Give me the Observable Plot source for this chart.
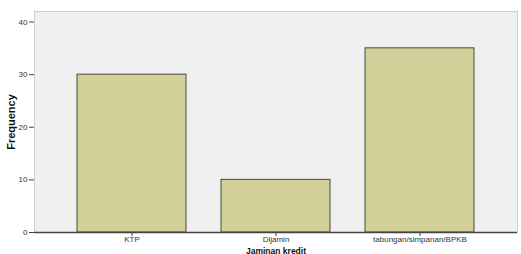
<!DOCTYPE html>
<html><head><meta charset="utf-8">
<script src="https://cdn.jsdelivr.net/npm/d3@7"></script>
<script src="https://cdn.jsdelivr.net/npm/@observablehq/plot@0.6"></script>
<style>
html,body{margin:0;padding:0;background:#fff;overflow:hidden;}
</style></head><body>
<div id="chart"></div>
<script>
const categories = ["KTP", "Dijamin", "tabungan/simpanan/BPKB"];
const frequencies = [30, 10, 35];
const yTicks = [0, 10, 20, 30, 40];
const xTitle = "Jaminan kredit";
const yTitle = "Frequency";

const data = categories.map((c, i) => ({category: c, value: frequencies[i]}));

const chart = Plot.plot({
  width: 521,
  height: 254,
  marginLeft: 34,
  marginRight: 4,
  marginTop: 11,
  marginBottom: 22,
  style: {fontFamily: "Liberation Sans, Arial, sans-serif", background: "#fff", overflow: "visible"},
  x: {domain: categories, paddingInner: 0.246, paddingOuter: 0.29},
  y: {domain: [0, 42]},
  marks: [
    Plot.frame({fill: "#f0f0f0", stroke: "#cfcfcf"}),
    Plot.barY(data, {x: "category", y: "value", fill: "#d3cf98", stroke: "#4a4a3a", strokeWidth: 1}),
    Plot.ruleY([0], {stroke: "#444", strokeWidth: 1.3}),
    Plot.ruleX([0], {frameAnchor: "left", stroke: "#777", strokeWidth: 1.5}),
    Plot.axisY({ticks: yTicks, tickSize: 5, tickPadding: 2, fontSize: 8, color: "#333", stroke: "#444",
      label: yTitle, labelAnchor: "center", labelArrow: "none", labelOffset: 27}),
    Plot.axisX({tickSize: 4, tickPadding: 0, fontSize: 8, color: "#333", stroke: "#444",
      label: xTitle, labelAnchor: "center", labelArrow: "none", labelOffset: 21})
  ]
});
d3.select(chart).selectAll("[aria-label='y-axis label'] text")
  .attr("font-weight", "bold").attr("font-size", 11).attr("fill", "#111");
d3.select(chart).selectAll("[aria-label='x-axis label'] text")
  .attr("font-weight", "bold").attr("font-size", 8.5).attr("fill", "#111");
document.getElementById("chart").appendChild(chart);
</script>
</body></html>
